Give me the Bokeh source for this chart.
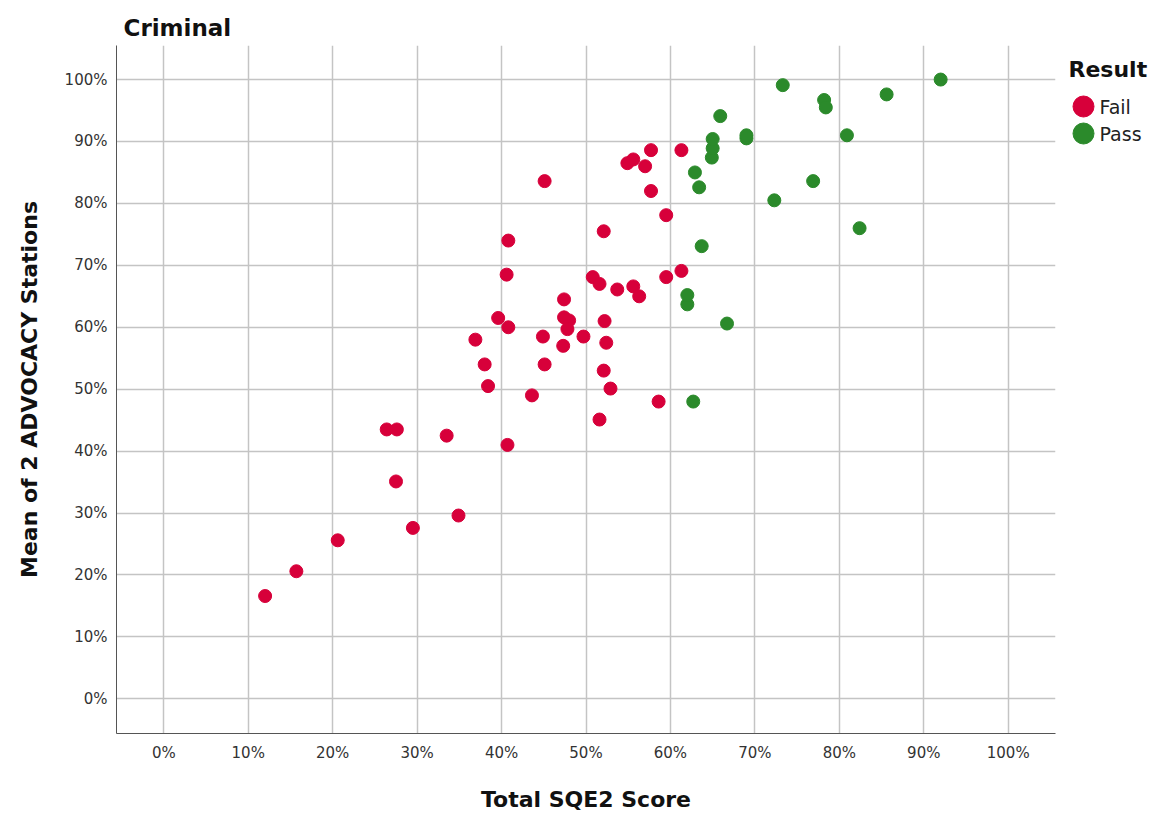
from bokeh.plotting import figure
from bokeh.layouts import row
from bokeh.models import Range1d, FixedTicker, PrintfTickFormatter
from bokeh.core.properties import value
from bokeh.embed import file_html
from bokeh.resources import INLINE

# Criminal: Total SQE2 Score (%) vs Mean of 2 ADVOCACY Stations (%)
fail_x = [12.0, 15.7, 20.6, 29.5, 34.9, 27.5, 26.4, 27.6, 33.5, 40.7,
          38.4, 38.0, 36.9, 39.6, 40.8, 40.6, 40.8, 45.1, 43.6, 45.1,
          44.9, 47.3, 47.4, 48.0, 47.8, 47.4, 49.7, 50.8, 51.6, 51.6,
          52.1, 52.9, 52.4, 52.2, 52.1, 53.7, 55.6, 56.3, 58.6, 59.5,
          61.3, 59.5, 57.7, 57.0, 54.9, 55.6, 57.7, 61.3]
fail_y = [16.6, 20.6, 25.6, 27.6, 29.6, 35.1, 43.5, 43.5, 42.5, 41.0,
          50.5, 54.0, 58.0, 61.5, 60.0, 68.5, 74.0, 83.6, 49.0, 54.0,
          58.5, 57.0, 61.6, 61.1, 59.7, 64.5, 58.5, 68.1, 67.0, 45.1,
          53.0, 50.1, 57.5, 61.0, 75.5, 66.1, 66.6, 65.0, 48.0, 68.1,
          69.1, 78.1, 82.0, 86.0, 86.5, 87.1, 88.6, 88.6]
pass_x = [62.7, 66.7, 62.0, 62.0, 63.7, 72.3, 63.4, 62.9, 64.9, 65.0,
          65.0, 65.9, 69.0, 69.0, 73.3, 78.2, 78.4, 85.6, 92.0, 80.9,
          76.9, 82.4]
pass_y = [48.0, 60.6, 63.7, 65.2, 73.1, 80.5, 82.6, 85.0, 87.4, 88.9,
          90.4, 94.1, 90.5, 91.0, 99.1, 96.7, 95.5, 97.6, 100.0, 91.0,
          83.6, 76.0]
x_ticks = [0, 10, 20, 30, 40, 50, 60, 70, 80, 90, 100]
y_ticks = [0, 10, 20, 30, 40, 50, 60, 70, 80, 90, 100]
legend_title = "Result"
legend_labels = ["Fail", "Pass"]

RED = "#D7003A"
GREEN = "#2B8A2B"
FONT = "DejaVu Sans"
H = 814
TOP, BOTTOM = 45, 81

p = figure(width=1058, height=H, output_backend="svg", toolbar_location=None,
           x_range=Range1d(-5.6, 105.6), y_range=Range1d(-5.6, 105.5),
           min_border_left=116, min_border_right=3, min_border_top=TOP,
           min_border_bottom=BOTTOM, title="Criminal")
p.outline_line_color = None
p.background_fill_color = "white"
p.border_fill_color = "white"

p.title.text_font = FONT
p.title.text_font_size = "23px"
p.title.text_font_style = "bold"
p.title.text_color = "#111111"
p.title.align = "left"
p.title.offset = 7

for ax in (p.xaxis[0], p.yaxis[0]):
    ax.major_tick_line_color = None
    ax.minor_tick_line_color = None
    ax.axis_line_color = "#555555"
    ax.axis_line_width = 1
    ax.major_label_text_font = FONT
    ax.major_label_text_font_size = "15px"
    ax.major_label_text_color = "#333333"
    ax.axis_label_text_font = FONT
    ax.axis_label_text_font_size = "22px"
    ax.axis_label_text_font_style = "bold"
    ax.axis_label_text_color = "#111111"
    ax.formatter = PrintfTickFormatter(format="%d%%")

p.xaxis.ticker = FixedTicker(ticks=x_ticks)
p.yaxis.ticker = FixedTicker(ticks=y_ticks)
p.xaxis.axis_label = "Total SQE2 Score"
p.yaxis.axis_label = "Mean of 2 ADVOCACY Stations"
p.xaxis.major_label_standoff = 4
p.yaxis.major_label_standoff = 3
p.xaxis.axis_label_standoff = 22
p.yaxis.axis_label_standoff = 20

p.grid.grid_line_color = "#c4c4c4"
p.grid.grid_line_width = 1.5

p.scatter(fail_x, fail_y, size=13, fill_color=RED, line_color=RED)
p.scatter(pass_x, pass_y, size=13, fill_color=GREEN, line_color=GREEN)

# legend panel: its frame is aligned with the main frame in the row,
# so the y range maps directly onto page pixels (y downward)
leg = figure(width=100, height=H, output_backend="svg", toolbar_location=None,
             x_range=Range1d(0, 100), y_range=Range1d(H - BOTTOM, TOP), title=None,
             min_border=0, outline_line_color=None)
leg.axis.visible = False
leg.grid.visible = False
leg.border_fill_color = "white"
leg.background_fill_color = "white"
row_y0, row_dy = 106, 27
leg.text([10], [69], text=[legend_title], text_font=value(FONT), text_font_size="22px",
         text_font_style="bold", text_color="#111111", text_baseline="middle")
leg.scatter([25, 25], [row_y0, row_y0 + row_dy], size=21,
            fill_color=[RED, GREEN], line_color=[RED, GREEN])
leg.text([41, 41], [row_y0, row_y0 + row_dy], text=legend_labels, text_font=value(FONT),
         text_font_size="19px", text_color="#222222", text_baseline="middle")

layout = row(p, leg)
open("out.html", "w").write(file_html(layout, INLINE))
